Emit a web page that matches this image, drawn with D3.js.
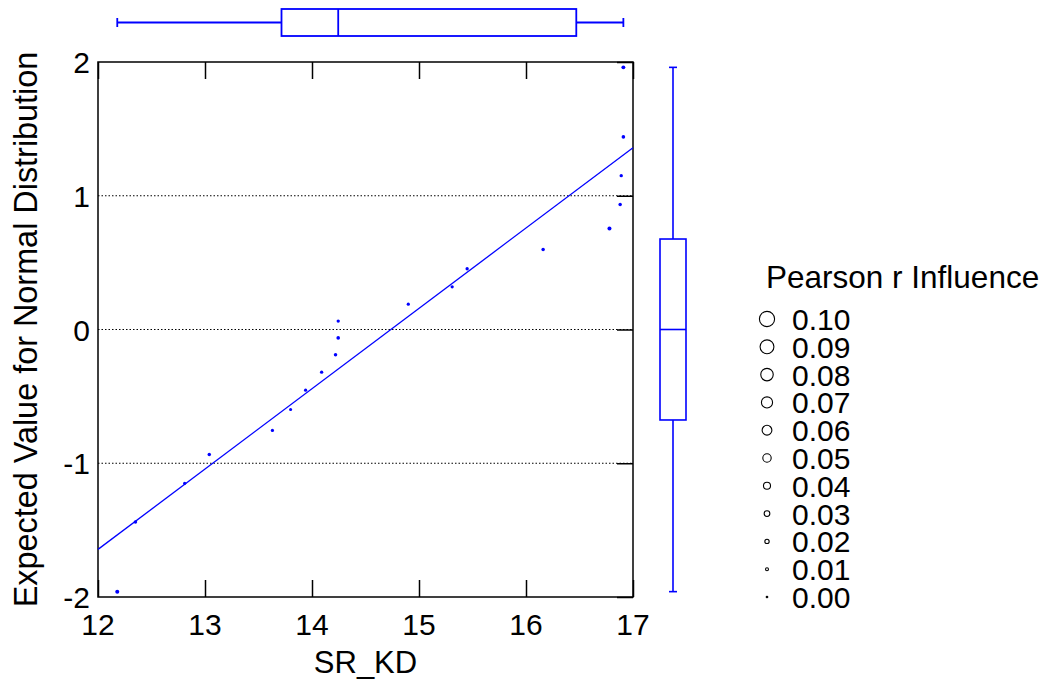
<!DOCTYPE html>
<html>
<head>
<meta charset="utf-8">
<script src="https://cdn.jsdelivr.net/npm/d3@7"></script>
<style>
  html, body { margin: 0; padding: 0; background: #fff; }
  svg { display: block; font-family: "Liberation Sans", Arial, sans-serif; }
</style>
</head>
<body>
<svg id="chart" width="1048" height="683"></svg>
<script>
// Observed SR_KD values (sorted) and their expected normal scores
const srKd = [12.18, 12.35, 12.81, 13.04, 13.63, 13.80, 13.94, 14.09, 14.22, 14.245,
              14.245, 14.90, 15.31, 15.45, 16.16, 16.78, 16.88, 16.89, 16.91, 16.91];
const expectedNormal = [-1.96, -1.44, -1.15, -0.935, -0.755, -0.598, -0.454, -0.319, -0.189, -0.063,
                        0.063, 0.189, 0.319, 0.454, 0.598, 0.755, 0.935, 1.15, 1.44, 1.96];
// Pearson r influence of each case
const influence = [0.012, 0.008, 0.006, 0.008, 0.006, 0.005, 0.006, 0.007, 0.008, 0.009,
                   0.007, 0.006, 0.006, 0.007, 0.008, 0.012, 0.008, 0.007, 0.009, 0.011];

const xTicks = [12, 13, 14, 15, 16, 17];
const yTicks = [-2, -1, 0, 1, 2];
const gridY = [-1, 0, 1];
const legendValues = [0.10, 0.09, 0.08, 0.07, 0.06, 0.05, 0.04, 0.03, 0.02, 0.01, 0.00];

const blue = "#0000ff";
const svg = d3.select("#chart");

const plot = { left: 98, right: 633, top: 62, bottom: 597 };
const x = d3.scaleLinear().domain([12, 17]).range([plot.left, plot.right]);
const y = d3.scaleLinear().domain([-2, 2]).range([plot.bottom, plot.top]);
const rScale = d3.scaleLinear().domain([0, 0.1]).range([0.8, 7.6]);

// Dotted reference lines
svg.append("g").selectAll("line").data(gridY).join("line")
  .attr("x1", plot.left).attr("x2", plot.right)
  .attr("y1", d => y(d)).attr("y2", d => y(d))
  .attr("stroke", "#000").attr("stroke-width", 1).attr("stroke-dasharray", "1.5,2");

// Frame
svg.append("rect")
  .attr("x", plot.left).attr("y", plot.top)
  .attr("width", plot.right - plot.left).attr("height", plot.bottom - plot.top)
  .attr("fill", "none").attr("stroke", "#000").attr("stroke-width", 1.5);

// Inward ticks: bottom and top for x, right for y
const tickLen = 17;
svg.append("g").call(d3.axisBottom(x).tickValues(xTicks).tickSize(-tickLen).tickFormat(""))
  .attr("transform", `translate(0,${plot.bottom})`)
  .call(g => g.select(".domain").remove())
  .call(g => g.selectAll("line").attr("stroke", "#000").attr("stroke-width", 1.5));
svg.append("g").call(d3.axisTop(x).tickValues(xTicks).tickSize(-tickLen).tickFormat(""))
  .attr("transform", `translate(0,${plot.top})`)
  .call(g => g.select(".domain").remove())
  .call(g => g.selectAll("line").attr("stroke", "#000").attr("stroke-width", 1.5));
svg.append("g").call(d3.axisRight(y).tickValues(yTicks).tickSize(-16).tickFormat(""))
  .attr("transform", `translate(${plot.right},0)`)
  .call(g => g.select(".domain").remove())
  .call(g => g.selectAll("line").attr("stroke", "#000").attr("stroke-width", 1.5));

// Tick labels
svg.append("g").selectAll("text").data(xTicks).join("text")
  .attr("x", d => x(d)).attr("y", 635)
  .attr("text-anchor", "middle").attr("font-size", 30).attr("fill", "#000")
  .text(d => d);
svg.append("g").selectAll("text").data(yTicks).join("text")
  .attr("x", 90).attr("y", d => y(d) + 11)
  .attr("text-anchor", "end").attr("font-size", 30).attr("fill", "#000")
  .text(d => d);

// Axis titles
svg.append("text")
  .attr("x", (plot.left + plot.right) / 2).attr("y", 673)
  .attr("text-anchor", "middle").attr("font-size", 31).text("SR_KD");
svg.append("text")
  .attr("transform", `translate(37,${(plot.top + plot.bottom) / 2}) rotate(-90)`)
  .attr("text-anchor", "middle").attr("font-size", 32.4)
  .text("Expected Value for Normal Distribution");

// Least-squares line of expected value on SR_KD
const mx = d3.mean(srKd), my = d3.mean(expectedNormal);
const sxy = d3.sum(srKd, (v, i) => (v - mx) * (expectedNormal[i] - my));
const sxx = d3.sum(srKd, v => (v - mx) ** 2);
const slope = sxy / sxx, intercept = my - slope * mx;
svg.append("line")
  .attr("x1", x(12)).attr("y1", y(intercept + slope * 12))
  .attr("x2", x(17)).attr("y2", y(intercept + slope * 17))
  .attr("stroke", blue).attr("stroke-width", 1.3);

// Points sized by influence
svg.append("g").selectAll("circle").data(srKd).join("circle")
  .attr("cx", d => x(d)).attr("cy", (d, i) => y(expectedNormal[i]))
  .attr("r", (d, i) => rScale(influence[i]) + 0.4)
  .attr("fill", blue).attr("stroke", "none");

// Tukey hinges for box plots
function hinges(values) {
  const s = values.slice().sort(d3.ascending);
  const n = s.length, half = Math.floor(n / 2);
  const lower = s.slice(0, half), upper = s.slice(n - half);
  return { min: s[0], q1: d3.median(lower), med: d3.median(s), q3: d3.median(upper), max: s[n - 1] };
}

// Marginal box plot of SR_KD (top)
const bx = hinges(srKd);
const gTop = svg.append("g").attr("stroke", blue).attr("stroke-width", 1.8).attr("fill", "none");
gTop.append("line").attr("x1", x(bx.min)).attr("x2", x(bx.q1)).attr("y1", 22.5).attr("y2", 22.5);
gTop.append("line").attr("x1", x(bx.q3)).attr("x2", x(bx.max)).attr("y1", 22.5).attr("y2", 22.5);
gTop.append("line").attr("x1", x(bx.min)).attr("x2", x(bx.min)).attr("y1", 18).attr("y2", 27);
gTop.append("line").attr("x1", x(bx.max)).attr("x2", x(bx.max)).attr("y1", 18).attr("y2", 27);
gTop.append("rect").attr("x", x(bx.q1)).attr("y", 9).attr("width", x(bx.q3) - x(bx.q1)).attr("height", 27);
gTop.append("line").attr("x1", x(bx.med)).attr("x2", x(bx.med)).attr("y1", 9).attr("y2", 36);

// Marginal box plot of expected values (right)
const by = hinges(expectedNormal);
const cxR = 673;
const gRight = svg.append("g").attr("stroke", blue).attr("stroke-width", 1.6).attr("fill", "none");
gRight.append("line").attr("x1", cxR).attr("x2", cxR).attr("y1", y(by.max)).attr("y2", y(by.q3));
gRight.append("line").attr("x1", cxR).attr("x2", cxR).attr("y1", y(by.q1)).attr("y2", y(by.min));
gRight.append("line").attr("x1", cxR - 4).attr("x2", cxR + 4).attr("y1", y(by.max)).attr("y2", y(by.max));
gRight.append("line").attr("x1", cxR - 4).attr("x2", cxR + 4).attr("y1", y(by.min)).attr("y2", y(by.min));
gRight.append("rect").attr("x", 660).attr("y", y(by.q3)).attr("width", 26).attr("height", y(by.q1) - y(by.q3));
gRight.append("line").attr("x1", 660).attr("x2", 686).attr("y1", y(by.med)).attr("y2", y(by.med));

// Legend
const legend = svg.append("g");
legend.append("text").attr("x", 766).attr("y", 288).attr("font-size", 31.5).text("Pearson r Influence");
const items = legend.selectAll("g.item").data(legendValues).join("g")
  .attr("class", "item")
  .attr("transform", (d, i) => `translate(0,${319 + i * 27.8})`);
items.append("circle").attr("cx", 767).attr("cy", 0).attr("r", d => rScale(d))
  .attr("fill", "none").attr("stroke", "#000").attr("stroke-width", 1.1);
items.append("text").attr("x", 792).attr("y", 11).attr("font-size", 30)
  .text(d => d3.format(".2f")(d));
</script>
</body>
</html>
